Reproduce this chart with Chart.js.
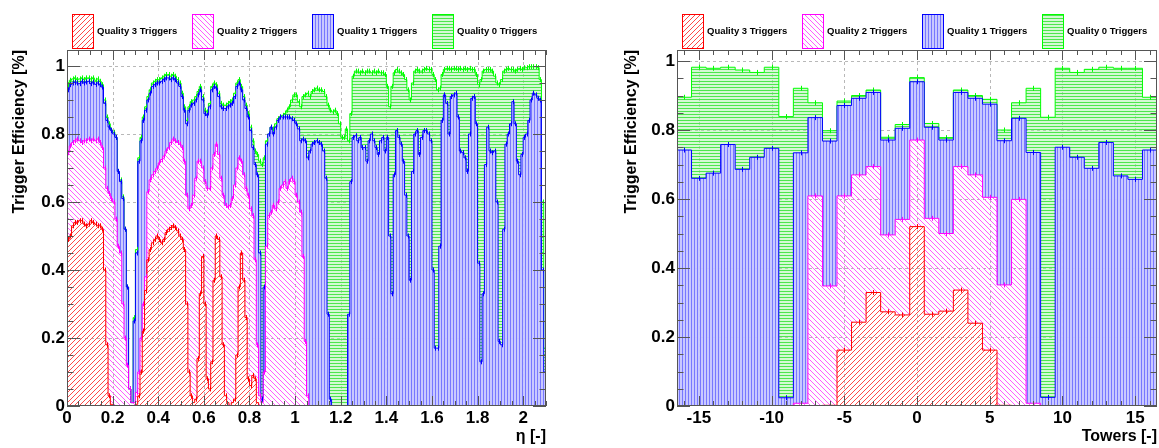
<!DOCTYPE html>
<html lang="en">
<head>
<meta charset="UTF-8"/>
<title>Trigger Efficiency</title>
<script src="https://cdn.jsdelivr.net/npm/chart.js"></script>
<style>
  html, body { margin: 0; padding: 0; background: #fff; }
  body { width: 1159px; height: 448px; position: relative; overflow: hidden; }
  canvas { position: absolute; top: 0; }
  #etaChart { left: 0; }
  #towerChart { left: 580px; }
</style>
</head>
<body>
<canvas id="etaChart" width="580" height="448"></canvas>
<canvas id="towerChart" width="579" height="448"></canvas>
<script>
const legendLabels = ["Quality 3 Triggers", "Quality 2 Triggers", "Quality 1 Triggers", "Quality 0 Triggers"];

// left panel: eta bins of 0.01 from 0 to 2.1
// each array is the top edge of its layer in the stack (q3 at the bottom, q0 on top)
const etaBinWidth = 0.01;
const etaQ3 = [
  0.49, 0.50, 0.53, 0.54, 0.54, 0.545, 0.545, 0.535, 0.53, 0.535,
  0.545, 0.54, 0.535, 0.53, 0.53, 0.52, 0.40, 0.18, 0.03, 0.005,
  0, 0, 0, 0, 0, 0, 0, 0, 0, 0,
  0.005, 0.03, 0.10, 0.22, 0.34, 0.43, 0.46, 0.48, 0.49, 0.50,
  0.49, 0.48, 0.49, 0.51, 0.52, 0.525, 0.53, 0.525, 0.515, 0.50,
  0.49, 0.46, 0.30, 0.10, 0.03, 0.01, 0.02, 0.14, 0.33, 0.44,
  0.30, 0.08, 0.05, 0.13, 0.37, 0.50, 0.49, 0.38, 0.18, 0.03,
  0.01, 0, 0.01, 0.02, 0.15, 0.35, 0.45, 0.37, 0.26, 0.08,
  0.06, 0.09, 0.08, 0.01, 0, 0, 0, 0, 0, 0,
  0, 0, 0, 0, 0, 0, 0, 0, 0, 0,
  0, 0, 0, 0, 0, 0, 0, 0, 0, 0,
  0, 0, 0, 0, 0, 0, 0, 0, 0, 0,
  0, 0, 0, 0, 0, 0, 0, 0, 0, 0,
  0, 0, 0, 0, 0, 0, 0, 0, 0, 0,
  0, 0, 0, 0, 0, 0, 0, 0, 0, 0,
  0, 0, 0, 0, 0, 0, 0, 0, 0, 0,
  0, 0, 0, 0, 0, 0, 0, 0, 0, 0,
  0, 0, 0, 0, 0, 0, 0, 0, 0, 0,
  0, 0, 0, 0, 0, 0, 0, 0, 0, 0,
  0, 0, 0, 0, 0, 0, 0, 0, 0, 0,
  0, 0, 0, 0, 0, 0, 0, 0, 0, 0
];
const etaQ2 = [
  0.745, 0.765, 0.775, 0.78, 0.785, 0.78, 0.775, 0.78, 0.78, 0.785,
  0.78, 0.785, 0.78, 0.785, 0.775, 0.76, 0.70, 0.64, 0.625, 0.61,
  0.60, 0.55, 0.47, 0.45, 0.30, 0.20, 0.12, 0.05, 0.01, 0.01,
  0.04, 0.10, 0.20, 0.30, 0.38, 0.63, 0.665, 0.68, 0.69, 0.70,
  0.715, 0.725, 0.735, 0.75, 0.76, 0.775, 0.785, 0.78, 0.775, 0.77,
  0.76, 0.72, 0.62, 0.58, 0.59, 0.62, 0.67, 0.72, 0.72, 0.70,
  0.66, 0.64, 0.64, 0.70, 0.74, 0.77, 0.74, 0.67, 0.62, 0.59,
  0.586, 0.59, 0.61, 0.65, 0.70, 0.73, 0.72, 0.68, 0.64, 0.62,
  0.58, 0.56, 0.43, 0.18, 0.03, 0.01, 0.10, 0.47, 0.56, 0.57,
  0.59, 0.58, 0.60, 0.64, 0.65, 0.66, 0.64, 0.66, 0.67, 0.66,
  0.62, 0.60, 0.57, 0.44, 0.19, 0.03, 0, 0, 0, 0,
  0, 0, 0, 0, 0, 0, 0, 0, 0, 0,
  0, 0, 0, 0, 0, 0, 0, 0, 0, 0,
  0, 0, 0, 0, 0, 0, 0, 0, 0, 0,
  0, 0, 0, 0, 0, 0, 0, 0, 0, 0,
  0, 0, 0, 0, 0, 0, 0, 0, 0, 0,
  0, 0, 0, 0, 0, 0, 0, 0, 0, 0,
  0, 0, 0, 0, 0, 0, 0, 0, 0, 0,
  0, 0, 0, 0, 0, 0, 0, 0, 0, 0,
  0, 0, 0, 0, 0, 0, 0, 0, 0, 0,
  0, 0, 0, 0, 0, 0, 0, 0, 0, 0
];
const etaQ1 = [
  0.93, 0.945, 0.95, 0.952, 0.95, 0.948, 0.955, 0.95, 0.953, 0.955,
  0.948, 0.952, 0.946, 0.95, 0.945, 0.938, 0.89, 0.84, 0.82, 0.81,
  0.80, 0.79, 0.69, 0.66, 0.61, 0.52, 0.35, 0.05, 0.01, 0.25,
  0.45, 0.72, 0.78, 0.84, 0.87, 0.90, 0.92, 0.94, 0.945, 0.95,
  0.95, 0.955, 0.96, 0.965, 0.965, 0.96, 0.965, 0.96, 0.95, 0.94,
  0.91, 0.87, 0.83, 0.87, 0.885, 0.89, 0.90, 0.915, 0.93, 0.90,
  0.86, 0.855, 0.88, 0.93, 0.94, 0.935, 0.91, 0.88, 0.875, 0.875,
  0.88, 0.885, 0.89, 0.91, 0.94, 0.95, 0.93, 0.90, 0.875, 0.85,
  0.81, 0.76, 0.71, 0.68, 0.45, 0.02, 0.35, 0.77, 0.80, 0.82,
  0.80, 0.82, 0.84, 0.85, 0.85, 0.85, 0.85, 0.85, 0.845, 0.84,
  0.83, 0.815, 0.78, 0.785, 0.78, 0.73, 0.75, 0.77, 0.775, 0.78,
  0.775, 0.77, 0.75, 0.67, 0.27, 0.02, 0, 0, 0, 0,
  0, 0, 0, 0.27, 0.66, 0.79, 0.795, 0.78, 0.79, 0.76,
  0.76, 0.72, 0.78, 0.80, 0.78, 0.76, 0.74, 0.78, 0.79, 0.75,
  0.79, 0.50, 0.33, 0.68, 0.81, 0.79, 0.77, 0.72, 0.62, 0.50,
  0.37, 0.69, 0.80, 0.81, 0.74, 0.79, 0.81, 0.81, 0.80, 0.78,
  0.40, 0.17, 0.17, 0.47, 0.84, 0.915, 0.89, 0.80, 0.91, 0.915,
  0.92, 0.85, 0.75, 0.745, 0.73, 0.69, 0.80, 0.905, 0.91, 0.83,
  0.42, 0.13, 0.33, 0.71, 0.82, 0.75, 0.745, 0.75, 0.60, 0.19,
  0.18, 0.52, 0.77, 0.80, 0.83, 0.895, 0.83, 0.72, 0.68, 0.74,
  0.79, 0.80, 0.84, 0.90, 0.92, 0.915, 0.905, 0.90, 0.40, 0.10
];
const etaQ0 = [
  0.945, 0.958, 0.962, 0.965, 0.96, 0.962, 0.965, 0.96, 0.965, 0.965,
  0.962, 0.965, 0.958, 0.962, 0.955, 0.945, 0.90, 0.85, 0.83, 0.812,
  0.805, 0.79, 0.69, 0.665, 0.615, 0.52, 0.35, 0.05, 0.01, 0.26,
  0.46, 0.73, 0.79, 0.85, 0.88, 0.91, 0.93, 0.95, 0.955, 0.96,
  0.96, 0.965, 0.97, 0.975, 0.975, 0.97, 0.975, 0.97, 0.96, 0.95,
  0.92, 0.88, 0.84, 0.88, 0.895, 0.90, 0.91, 0.925, 0.94, 0.91,
  0.87, 0.865, 0.89, 0.94, 0.95, 0.945, 0.92, 0.89, 0.885, 0.885,
  0.89, 0.895, 0.90, 0.92, 0.95, 0.96, 0.94, 0.91, 0.885, 0.86,
  0.82, 0.78, 0.75, 0.74, 0.72, 0.71, 0.73, 0.78, 0.80, 0.82,
  0.815, 0.83, 0.845, 0.85, 0.855, 0.86, 0.87, 0.88, 0.90, 0.915,
  0.915, 0.895, 0.88, 0.91, 0.915, 0.92, 0.91, 0.925, 0.93, 0.935,
  0.93, 0.93, 0.925, 0.91, 0.885, 0.87, 0.865, 0.87, 0.86, 0.83,
  0.79, 0.79, 0.815, 0.78, 0.86, 0.97, 0.985, 0.985, 0.98, 0.985,
  0.98, 0.985, 0.985, 0.98, 0.985, 0.98, 0.985, 0.98, 0.98, 0.975,
  0.94, 0.88, 0.94, 0.98, 0.99, 0.985, 0.98, 0.975, 0.96, 0.93,
  0.90, 0.95, 0.985, 0.99, 0.985, 0.985, 0.99, 0.993, 0.99, 0.99,
  0.975, 0.96, 0.93, 0.935, 0.975, 0.99, 0.993, 0.993, 0.99, 0.993,
  0.993, 0.99, 0.993, 0.99, 0.993, 0.99, 0.993, 0.99, 0.99, 0.975,
  0.945, 0.96, 0.985, 0.99, 0.99, 0.99, 0.985, 0.97, 0.95, 0.945,
  0.96, 0.985, 0.99, 0.993, 0.99, 0.99, 0.985, 0.99, 0.993, 0.99,
  0.995, 0.995, 0.998, 0.998, 0.998, 0.998, 0.995, 0.96, 0.60, 0.17
];
const etaTicks = [0, 0.2, 0.4, 0.6, 0.8, 1, 1.2, 1.4, 1.6, 1.8, 2];
const etaTickLabels = ["0", "0.2", "0.4", "0.6", "0.8", "1", "1.2", "1.4", "1.6", "1.8", "2"];

// right panel: one bin per tower
const towers = [-16, -15, -14, -13, -12, -11, -10, -9, -8, -7, -6, -5, -4, -3, -2, -1, 0,
  1, 2, 3, 4, 5, 6, 7, 8, 9, 10, 11, 12, 13, 14, 15, 16];
const towerQ3 = [0, 0, 0, 0, 0, 0, 0, 0, 0, 0, 0.002, 0.162, 0.243, 0.329, 0.273, 0.264, 0.52,
  0.266, 0.275, 0.336, 0.24, 0.162, 0.002, 0, 0, 0, 0, 0, 0, 0, 0, 0, 0];
const towerQ2 = [0, 0, 0, 0, 0, 0, 0, 0, 0.008, 0.609, 0.348, 0.609, 0.67, 0.694, 0.496, 0.541, 0.771,
  0.544, 0.50, 0.694, 0.67, 0.605, 0.351, 0.599, 0.008, 0, 0, 0, 0, 0, 0, 0, 0];
const towerQ1 = [0.742, 0.66, 0.675, 0.758, 0.686, 0.721, 0.747, 0.024, 0.734, 0.836, 0.768, 0.871, 0.892, 0.909, 0.771, 0.805, 0.94,
  0.808, 0.771, 0.909, 0.892, 0.875, 0.769, 0.834, 0.735, 0.025, 0.75, 0.721, 0.689, 0.764, 0.667, 0.657, 0.742];
const towerQ0 = [0.895, 0.982, 0.979, 0.982, 0.974, 0.967, 0.982, 0.839, 0.921, 0.879, 0.798, 0.884, 0.90, 0.916, 0.779, 0.816, 0.952,
  0.819, 0.778, 0.916, 0.90, 0.889, 0.80, 0.879, 0.921, 0.837, 0.979, 0.967, 0.976, 0.982, 0.979, 0.979, 0.895];
const towerTicks = [-15, -10, -5, 0, 5, 10, 15];
const towerTickLabels = ["-15", "-10", "-5", "0", "5", "10", "15"];

const effTicks = [0, 0.2, 0.4, 0.6, 0.8, 1];
const effTickLabels = ["0", "0.2", "0.4", "0.6", "0.8", "1"];

const FONT = '"Liberation Sans", Arial, Helvetica, sans-serif';

// hatch fills, ROOT style (3004 /, 3005 \, 3006 |, 3007 -)
const patternCtx = document.getElementById('etaChart').getContext('2d');
function hatch(kind, line, gap) {
  const c = document.createElement('canvas');
  const s = (kind === '|' || kind === '-') ? 3 : 5;
  c.width = s; c.height = s;
  const g = c.getContext('2d');
  g.clearRect(0, 0, s, s);
  if (gap) { g.fillStyle = gap; g.fillRect(0, 0, s, s); }
  g.fillStyle = line;
  g.strokeStyle = line;
  g.lineWidth = 1;
  if (kind === '/' || kind === '\\') {
    g.beginPath();
    if (kind === '/') {
      g.moveTo(-1, s + 1); g.lineTo(s + 1, -1);
      g.moveTo(-1, 1); g.lineTo(1, -1);
      g.moveTo(s - 1, s + 1); g.lineTo(s + 1, s - 1);
    } else {
      g.moveTo(-1, -1); g.lineTo(s + 1, s + 1);
      g.moveTo(s - 1, -1); g.lineTo(s + 1, 1);
      g.moveTo(-1, s - 1); g.lineTo(1, s + 1);
    }
    g.stroke();
  }
  if (kind === '|') g.fillRect(0, 0, 1, s);
  if (kind === '-') g.fillRect(0, 0, s, 1);
  return patternCtx.createPattern(c, 'repeat');
}

const layerStyles = [
  { border: '#ff0000', fill: hatch('/', '#ff4848') },
  { border: '#ff00ff', fill: hatch('\\', '#ff5cff') },
  { border: '#0000ff', fill: hatch('|', '#7878ff', 'rgba(198,198,255,0.95)') },
  { border: '#00ff00', fill: hatch('-', '#4ee64e', 'rgba(160,242,160,0.45)') }
];

function histData(edges, values, width) {
  const pts = values.map((v, i) => ({ x: edges[i], y: v }));
  pts.push({ x: edges[values.length - 1] + width, y: values[values.length - 1] });
  return pts;
}

function steps(min, max, step) {
  const out = [];
  for (let i = Math.ceil(min / step - 1e-6); i * step <= max + 1e-6; i++) out.push(+(i * step).toFixed(4));
  return out;
}

// small error-bar ticks at the centre of each filled bin
const binMarks = {
  id: 'binMarks',
  afterDatasetsDraw(chart) {
    const { ctx, chartArea: a, scales: { x, y } } = chart;
    ctx.save();
    ctx.lineWidth = 1;
    chart.data.datasets.slice().reverse().forEach(ds => {
      ctx.strokeStyle = ds.borderColor;
      ctx.beginPath();
      for (let i = 0; i < ds.data.length - 1; i++) {
        const p = ds.data[i], q = ds.data[i + 1];
        if (p.y <= 0.01) continue;
        const px = Math.round(x.getPixelForValue((p.x + q.x) / 2)) + 0.5;
        const py = y.getPixelForValue(p.y);
        ctx.moveTo(px, Math.max(a.top, py - 2.5));
        ctx.lineTo(px, py + 2.5);
      }
      ctx.stroke();
    });
    ctx.restore();
  }
};

// grid, frame and inside ticks on all four sides
function rootFrame(xMajor, xMinor, yMajor, yMinor) {
  return {
    id: 'rootFrame',
    beforeDatasetsDraw(chart) {
      const { ctx, chartArea: a, scales: { x, y } } = chart;
      ctx.save();
      ctx.strokeStyle = '#b8b8b8';
      ctx.lineWidth = 1;
      ctx.setLineDash([3, 3]);
      ctx.beginPath();
      xMajor.forEach(v => {
        const px = Math.round(x.getPixelForValue(v)) + 0.5;
        if (px > a.left + 2 && px < a.right - 2) { ctx.moveTo(px, a.top); ctx.lineTo(px, a.bottom); }
      });
      yMajor.forEach(v => {
        const py = Math.round(y.getPixelForValue(v)) + 0.5;
        if (py > a.top + 2 && py < a.bottom - 2) { ctx.moveTo(a.left, py); ctx.lineTo(a.right, py); }
      });
      ctx.stroke();
      ctx.restore();
    },
    afterDatasetsDraw(chart) {
      const { ctx, chartArea: a, scales: { x, y } } = chart;
      ctx.save();
      ctx.strokeStyle = '#555';
      ctx.lineWidth = 1;
      ctx.beginPath();
      xMinor.forEach(v => {
        const px = Math.round(x.getPixelForValue(v)) + 0.5;
        const len = xMajor.includes(v) ? 10 : 5;
        ctx.moveTo(px, a.bottom); ctx.lineTo(px, a.bottom - len);
        ctx.moveTo(px, a.top); ctx.lineTo(px, a.top + len);
      });
      yMinor.forEach(v => {
        const py = Math.round(y.getPixelForValue(v)) + 0.5;
        const len = yMajor.includes(v) ? 13 : 6.5;
        ctx.moveTo(a.left, py); ctx.lineTo(a.left + len, py);
        ctx.moveTo(a.right, py); ctx.lineTo(a.right - len, py);
      });
      ctx.stroke();
      ctx.strokeRect(a.left + 0.5, a.top + 0.5, a.right - a.left - 1, a.bottom - a.top - 1);
      ctx.restore();
    }
  };
}

const legendBox = {
  id: 'legendBox',
  afterDraw(chart) {
    const { ctx, chartArea: a } = chart;
    ctx.save();
    ctx.font = 'bold 9.5px ' + FONT;
    ctx.textBaseline = 'middle';
    legendLabels.forEach((label, i) => {
      const bx = Math.round(a.left + 5 + i * 120);
      ctx.fillStyle = layerStyles[i].fill;
      ctx.fillRect(bx, 14, 21, 34);
      ctx.strokeStyle = layerStyles[i].border;
      ctx.lineWidth = 1;
      ctx.strokeRect(bx + 0.5, 14.5, 21, 34);
      ctx.fillStyle = '#000';
      ctx.fillText(label, bx + 25, 31);
    });
    ctx.restore();
  }
};

function makeChart(id, cfg) {
  const datasets = cfg.series.map((vals, i) => ({
    label: legendLabels[i],
    data: histData(cfg.edges, vals, cfg.width),
    borderColor: layerStyles[i].border,
    backgroundColor: layerStyles[i].fill,
    borderWidth: 1,
    stepped: true,
    pointRadius: 0,
    tension: 0,
    fill: i === 0 ? 'origin' : '-1'
  }));
  const tickFont = { family: FONT, size: 17, weight: 'bold' };
  const titleFont = { family: FONT, size: 16, weight: 'bold' };
  return new Chart(document.getElementById(id), {
    type: 'line',
    data: { datasets },
    options: {
      responsive: false,
      animation: false,
      devicePixelRatio: 1,
      layout: { padding: { top: 50, left: cfg.padLeft, right: cfg.padRight, bottom: 0 } },
      plugins: { legend: { display: false }, tooltip: { enabled: false } },
      scales: {
        x: {
          type: 'linear', min: cfg.xMin, max: cfg.xMax,
          grid: { display: false, drawTicks: false }, border: { display: false },
          afterBuildTicks: s => { s.ticks = cfg.xTicks.map(v => ({ value: v })); },
          ticks: {
            autoSkip: false, maxRotation: 0, padding: 2, color: '#000', font: tickFont,
            callback: v => cfg.xTickLabels[cfg.xTicks.indexOf(v)]
          },
          title: { display: true, text: cfg.xTitle, align: 'end', color: '#000', font: titleFont, padding: { top: 0, bottom: 1.5 } },
          afterFit: s => { s.height = 42; }
        },
        y: {
          type: 'linear', min: 0, max: cfg.yMax,
          grid: { display: false, drawTicks: false }, border: { display: false },
          afterBuildTicks: s => { s.ticks = effTicks.map(v => ({ value: v })); },
          ticks: {
            padding: 2, color: '#000', font: tickFont,
            callback: v => effTickLabels[effTicks.indexOf(v)]
          },
          title: { display: true, text: 'Trigger Efficiency [%]', align: 'end', color: '#000', font: titleFont, padding: { top: cfg.yTitlePad, bottom: 0 } },
          afterFit: s => { s.width = cfg.yWidth; }
        }
      }
    },
    plugins: [binMarks, rootFrame(cfg.xTicks, cfg.xMinor, effTicks, steps(0, cfg.yMax, 0.05)), legendBox]
  });
}

makeChart('etaChart', {
  edges: etaQ0.map((_, i) => +(i * etaBinWidth).toFixed(2)),
  width: etaBinWidth,
  series: [etaQ3, etaQ2, etaQ1, etaQ0],
  xMin: 0, xMax: 2.1,
  xTicks: etaTicks, xTickLabels: etaTickLabels, xMinor: steps(0, 2.1, 0.05),
  xTitle: 'η [-]',
  yMax: 1.047,
  padLeft: 0, padRight: 34, yWidth: 67, yTitlePad: 10
});

makeChart('towerChart', {
  edges: towers.map(t => t - 0.5),
  width: 1,
  series: [towerQ3, towerQ2, towerQ1, towerQ0],
  xMin: -16.5, xMax: 16.5,
  xTicks: towerTicks, xTickLabels: towerTickLabels, xMinor: steps(-16, 16, 1),
  xTitle: 'Towers [-]',
  yMax: 1.032,
  padLeft: 40, padRight: 2, yWidth: 57, yTitlePad: 1.5
});
</script>
</body>
</html>
